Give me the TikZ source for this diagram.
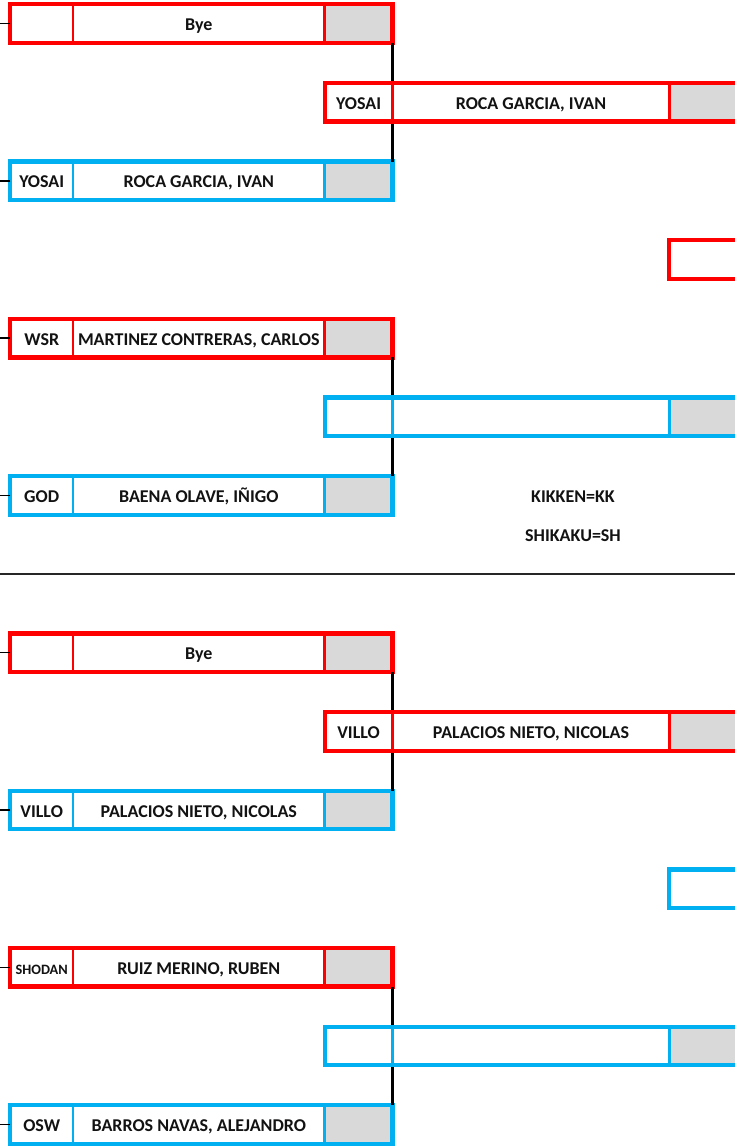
\documentclass[tikz,border=0pt]{standalone}
\usepackage{fontspec}
\setmainfont{Carlito}
\definecolor{fred}{HTML}{FF0000}
\definecolor{fblue}{HTML}{00B0F0}
\definecolor{boxgray}{HTML}{D9D9D9}
\tikzset{
  frame/.style={rectangle, line width=4.3pt, inner sep=0pt, outer sep=0pt, minimum height=38.6pt},
  divider/.style={line width=2.4pt},
  lbl/.style={inner sep=0pt, font=\bfseries\fontsize{18}{20}\selectfont, text=black!93,
    text height=0.644em, text depth=0pt},
  small/.style={font=\bfseries\fontsize{14.3}{16}\selectfont},
  bracket/.style={line width=3.2pt, black},
  tick/.style={line width=1.4pt, black},
  sep/.style={line width=1.4pt, black!85},
}
\def\stp{78.65}
% round 1 entry
\newcommand\rOne[6]{%
  \pgfmathsetmacro\yt{2+#2*\stp+2.2}%
  \pgfmathsetmacro\yb{2+#2*\stp+40.8}%
  \pgfmathsetmacro\yc{2+#2*\stp+25.3}%
  \fill[boxgray] (324.5,\yt) rectangle (392.6,\yb);
  \draw[#3, divider] (73,\yt) -- (73,\yb) (324.5,\yt) -- (324.5,\yb);
  \node[frame, draw=#3, minimum width=382.3pt, anchor=north west] (#1) at (10.3,\yt) {};
  \node[lbl, #6] (#1c) at (41.7,\yc) {#4};
  \node[lbl] (#1p) at (198.8,\yc) {#5};
  \draw[tick] (#1.west) -- (#1.west -| edge);
}
% round 2 entry
\newcommand\rTwo[5]{%
  \pgfmathsetmacro\yt{2+#2*\stp+2.2}%
  \pgfmathsetmacro\yb{2+#2*\stp+40.8}%
  \pgfmathsetmacro\yc{2+#2*\stp+25.3}%
  \fill[white] (325,\yt) rectangle (760,\yb);
  \fill[boxgray] (669.5,\yt) rectangle (760,\yb);
  \draw[#3, divider] (392.3,\yt) -- (392.3,\yb) (669.5,\yt) -- (669.5,\yb);
  \node[frame, draw=#3, minimum width=435pt, anchor=north west] (#1) at (325,\yt) {};
  \node[lbl] (#1c) at (358.6,\yc) {#4};
  \node[lbl] (#1p) at (531,\yc) {#5};
}
% round 3 entry
\newcommand\rThree[3]{%
  \pgfmathsetmacro\yt{2+#2*\stp+2.2}%
  \node[frame, draw=#3, fill=white, minimum width=100pt, anchor=north west] (#1) at (669.3,\yt) {};
}
\begin{document}
\begin{tikzpicture}[x=1pt,y=-1pt]
\clip (0,0) rectangle (735,1148);
\fill[white] (0,0) rectangle (735,1148);
\coordinate (edge) at (-1,0);
\coordinate (edgeR) at (736,0);

% ---- top half ----
\rOne{a0}{0}{fred}{}{Bye}{}
\rOne{a2}{2}{fblue}{YOSAI}{ROCA GARCIA, IVAN}{}
\draw[bracket] (a0.south east) -- (a2.north east);
\rTwo{b1}{1}{fred}{YOSAI}{ROCA GARCIA, IVAN}
\rThree{c3}{3}{fred}

\rOne{a4}{4}{fred}{WSR}{MARTINEZ CONTRERAS, CARLOS}{}
\rOne{a6}{6}{fblue}{GOD}{BAENA OLAVE, IÑIGO}{}
\draw[bracket] (a4.south east) -- (a6.north east);
\rTwo{b5}{5}{fblue}{}{}

\node[lbl] (kk) at (573,499.5) {KIKKEN=KK};
\node[lbl] (sh) at (573,538.5) {SHIKAKU=SH};

\coordinate (sepL) at (-1,574);
\draw[sep] (sepL) -- (sepL -| edgeR);

% ---- bottom half ----
\rOne{a8}{8}{fred}{}{Bye}{}
\rOne{a10}{10}{fblue}{VILLO}{PALACIOS NIETO, NICOLAS}{}
\draw[bracket] (a8.south east) -- (a10.north east);
\rTwo{b9}{9}{fred}{VILLO}{PALACIOS NIETO, NICOLAS}
\rThree{c11}{11}{fblue}

\rOne{a12}{12}{fred}{SHODAN}{RUIZ MERINO, RUBEN}{small}
\rOne{a14}{14}{fblue}{OSW}{BARROS NAVAS, ALEJANDRO}{}
\draw[bracket] (a12.south east) -- (a14.north east);
\rTwo{b13}{13}{fblue}{}{}
\end{tikzpicture}
\end{document}
